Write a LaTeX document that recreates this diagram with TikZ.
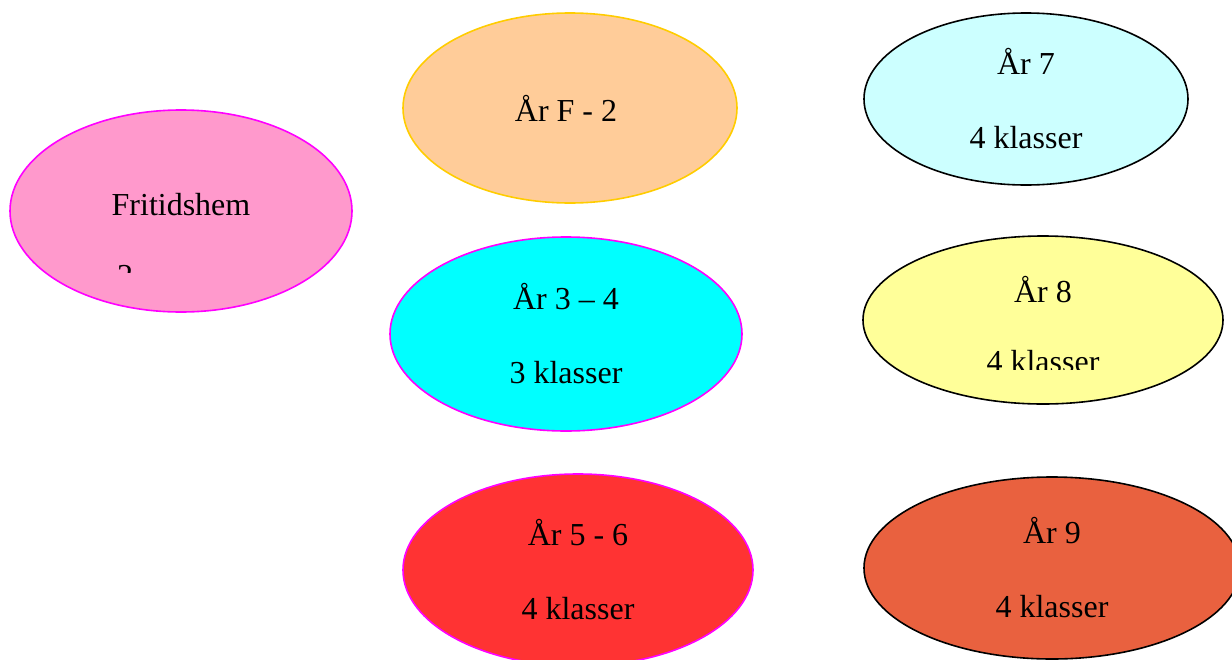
\documentclass[tikz,border=0pt]{standalone}
\usepackage{fontspec}
\setmainfont{Liberation Serif}
\usetikzlibrary{shapes}
\usetikzlibrary{positioning}
\definecolor{fhpink}{HTML}{FF99CC}
\definecolor{peach}{HTML}{FFCC99}
\definecolor{gold}{HTML}{FFCC00}
\definecolor{rim}{HTML}{FF00FF}
\definecolor{aqua}{HTML}{00FFFF}
\definecolor{paleblue}{HTML}{CCFFFF}
\definecolor{paleyellow}{HTML}{FFFF99}
\definecolor{brightred}{HTML}{FF3333}
\definecolor{brick}{HTML}{E9613F}

\begin{document}
\begin{tikzpicture}[
    x=0.5pt,
    y=-0.5pt,
    blob/.style={
        ellipse,
        draw,
        line width=0.8pt,
        inner sep=0pt,
        align=center,
        font=\fontsize{16}{19}\selectfont
    },
    word/.style={
        inner sep=0pt,
        font=\fontsize{16}{19}\selectfont
    }
]

    \clip (0,0) rectangle (1232,659);

    \node[blob,fill=fhpink,draw=rim,minimum width=171pt,minimum height=101pt] (FH)
    at (181,211) {};

    \node[word] (FHname) at (181,205)
    {
        Fritidshem
    };

    \begin{scope}
        \clip (100,240) rectangle (160,272);
        \node[word] (FHnum) at (125,276) {2};
    \end{scope}

    \node[blob,fill=peach,draw=gold,minimum width=167pt,minimum height=95pt] (F2)
    at (570,108)
    {
        År F - 2
    };

    \node[blob,fill=aqua,draw=rim,minimum width=176pt,minimum height=97pt] (Y34)
    at (566,334)
    {
        År 3 – 4\\[18pt]3 klasser
    };

    \node[blob,fill=brightred,draw=rim,minimum width=175pt,minimum height=96pt] (Y56)
    at (578,570)
    {
        År 5 - 6\\[18pt]4 klasser
    };

    \node[blob,fill=paleblue,minimum width=162pt,minimum height=86pt] (Y7)
    at (1026,99)
    {
        År 7\\[18pt]4 klasser
    };

    \node[blob,fill=paleyellow,minimum width=180pt,minimum height=84pt] (Y8)
    at (1043,320) {};

    \node[word] (Y8name) at (1043,290)
    {
        År 8
    };

    \begin{scope}
        \clip (960,330) rectangle (1130,369);
        \node[word] (Y8count) at (1043,362) {4 klasser};
    \end{scope}

    \node[blob,fill=brick,minimum width=188pt,minimum height=91pt] (Y9)
    at (1052,568)
    {
        År 9\\[18pt]4 klasser
    };

\end{tikzpicture}
\end{document}
